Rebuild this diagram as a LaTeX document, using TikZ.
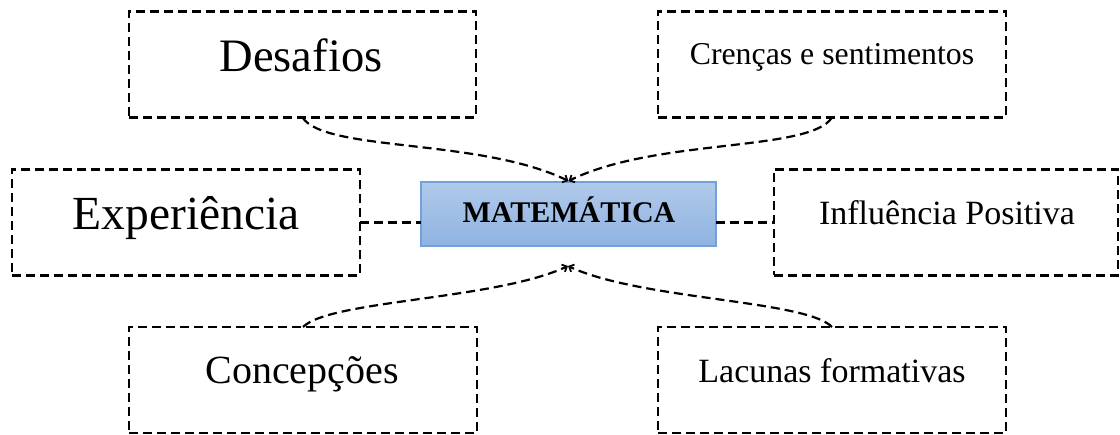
\documentclass[tikz,border=0pt]{standalone}
\usepackage{fontspec}
\setmainfont{Liberation Serif}
\usetikzlibrary{arrows.meta,calc}
\definecolor{boxtop}{HTML}{B0CAEA}
\definecolor{boxbot}{HTML}{90B3E2}
\definecolor{boxedge}{HTML}{72A0DA}
\tikzset{
  dbox/.style={draw=black, line width=2.2pt, dash pattern=on 9pt off 5pt, minimum width=#1, minimum height=106pt, inner sep=0pt, outer sep=0pt},
  conn/.style={draw=black, line width=2.2pt, dash pattern=on 9pt off 5pt},
  tip/.style={-{Straight Barb[length=4pt,width=8pt,line width=1.8pt]}},
  lbl/.style={anchor=base, inner sep=0pt},
  mainbox/.style={draw=boxedge, line width=1.2pt, top color=boxtop, bottom color=boxbot, minimum width=295pt, minimum height=64pt, inner sep=0pt, outer sep=0pt}
}
\begin{document}
\begin{tikzpicture}[x=1pt,y=-1pt]
\useasboundingbox (0,0) rectangle (1120,435);
% boxes
\node[dbox=347pt] (des) at (302.5,64.5) {};
\node[dbox=348pt] (cre) at (832,64.5) {};
\node[dbox=348pt] (exp) at (186,222.5) {};
\node[dbox=344pt] (inf) at (946,222.5) {};
\node[dbox=348pt] (con) at (303,380) {};
\node[dbox=348pt] (lac) at (832,380) {};
\node[mainbox] (mat) at (568.5,214) {};
% texts
\node[lbl] (tdes) at (301,72) {\fontsize{46.5}{50}\selectfont Desafios};
\node[lbl] (tcre) at (832,65) {\fontsize{31.8}{36}\selectfont Crenças e sentimentos};
\node[lbl] (texp) at (186,230) {\fontsize{47.5}{52}\selectfont Experiência};
\node[lbl] (tinf) at (947,225) {\fontsize{34}{38}\selectfont Influência Positiva};
\node[lbl] (tcon) at (302,384) {\fontsize{40}{44}\selectfont Concepções};
\node[lbl] (tlac) at (832,383) {\fontsize{34}{38}\selectfont Lacunas formativas};
\node[lbl] (tmat) at (569,223) {\fontsize{30}{34}\selectfont\bfseries MATEMÁTICA};
% junction points
\coordinate (ttip) at ($(mat.north)+(0,-1)$);
\coordinate (btip) at (568,266);
% connectors
\draw[conn] (exp.east) -- (exp.east -| mat.west);
\draw[conn] (mat.east |- inf.west) -- (inf.west);
\draw[conn,tip] (des.south) .. controls (325,152) and (480,138) .. (ttip);
\draw[conn,tip] (cre.south) .. controls (810,152) and (656,138) .. (ttip);
\draw[conn,tip] (con.north) .. controls (330,300) and (495,300) .. (btip);
\draw[conn,tip] (lac.north) .. controls (806,300) and (641,300) .. (btip);
\end{tikzpicture}
\end{document}
